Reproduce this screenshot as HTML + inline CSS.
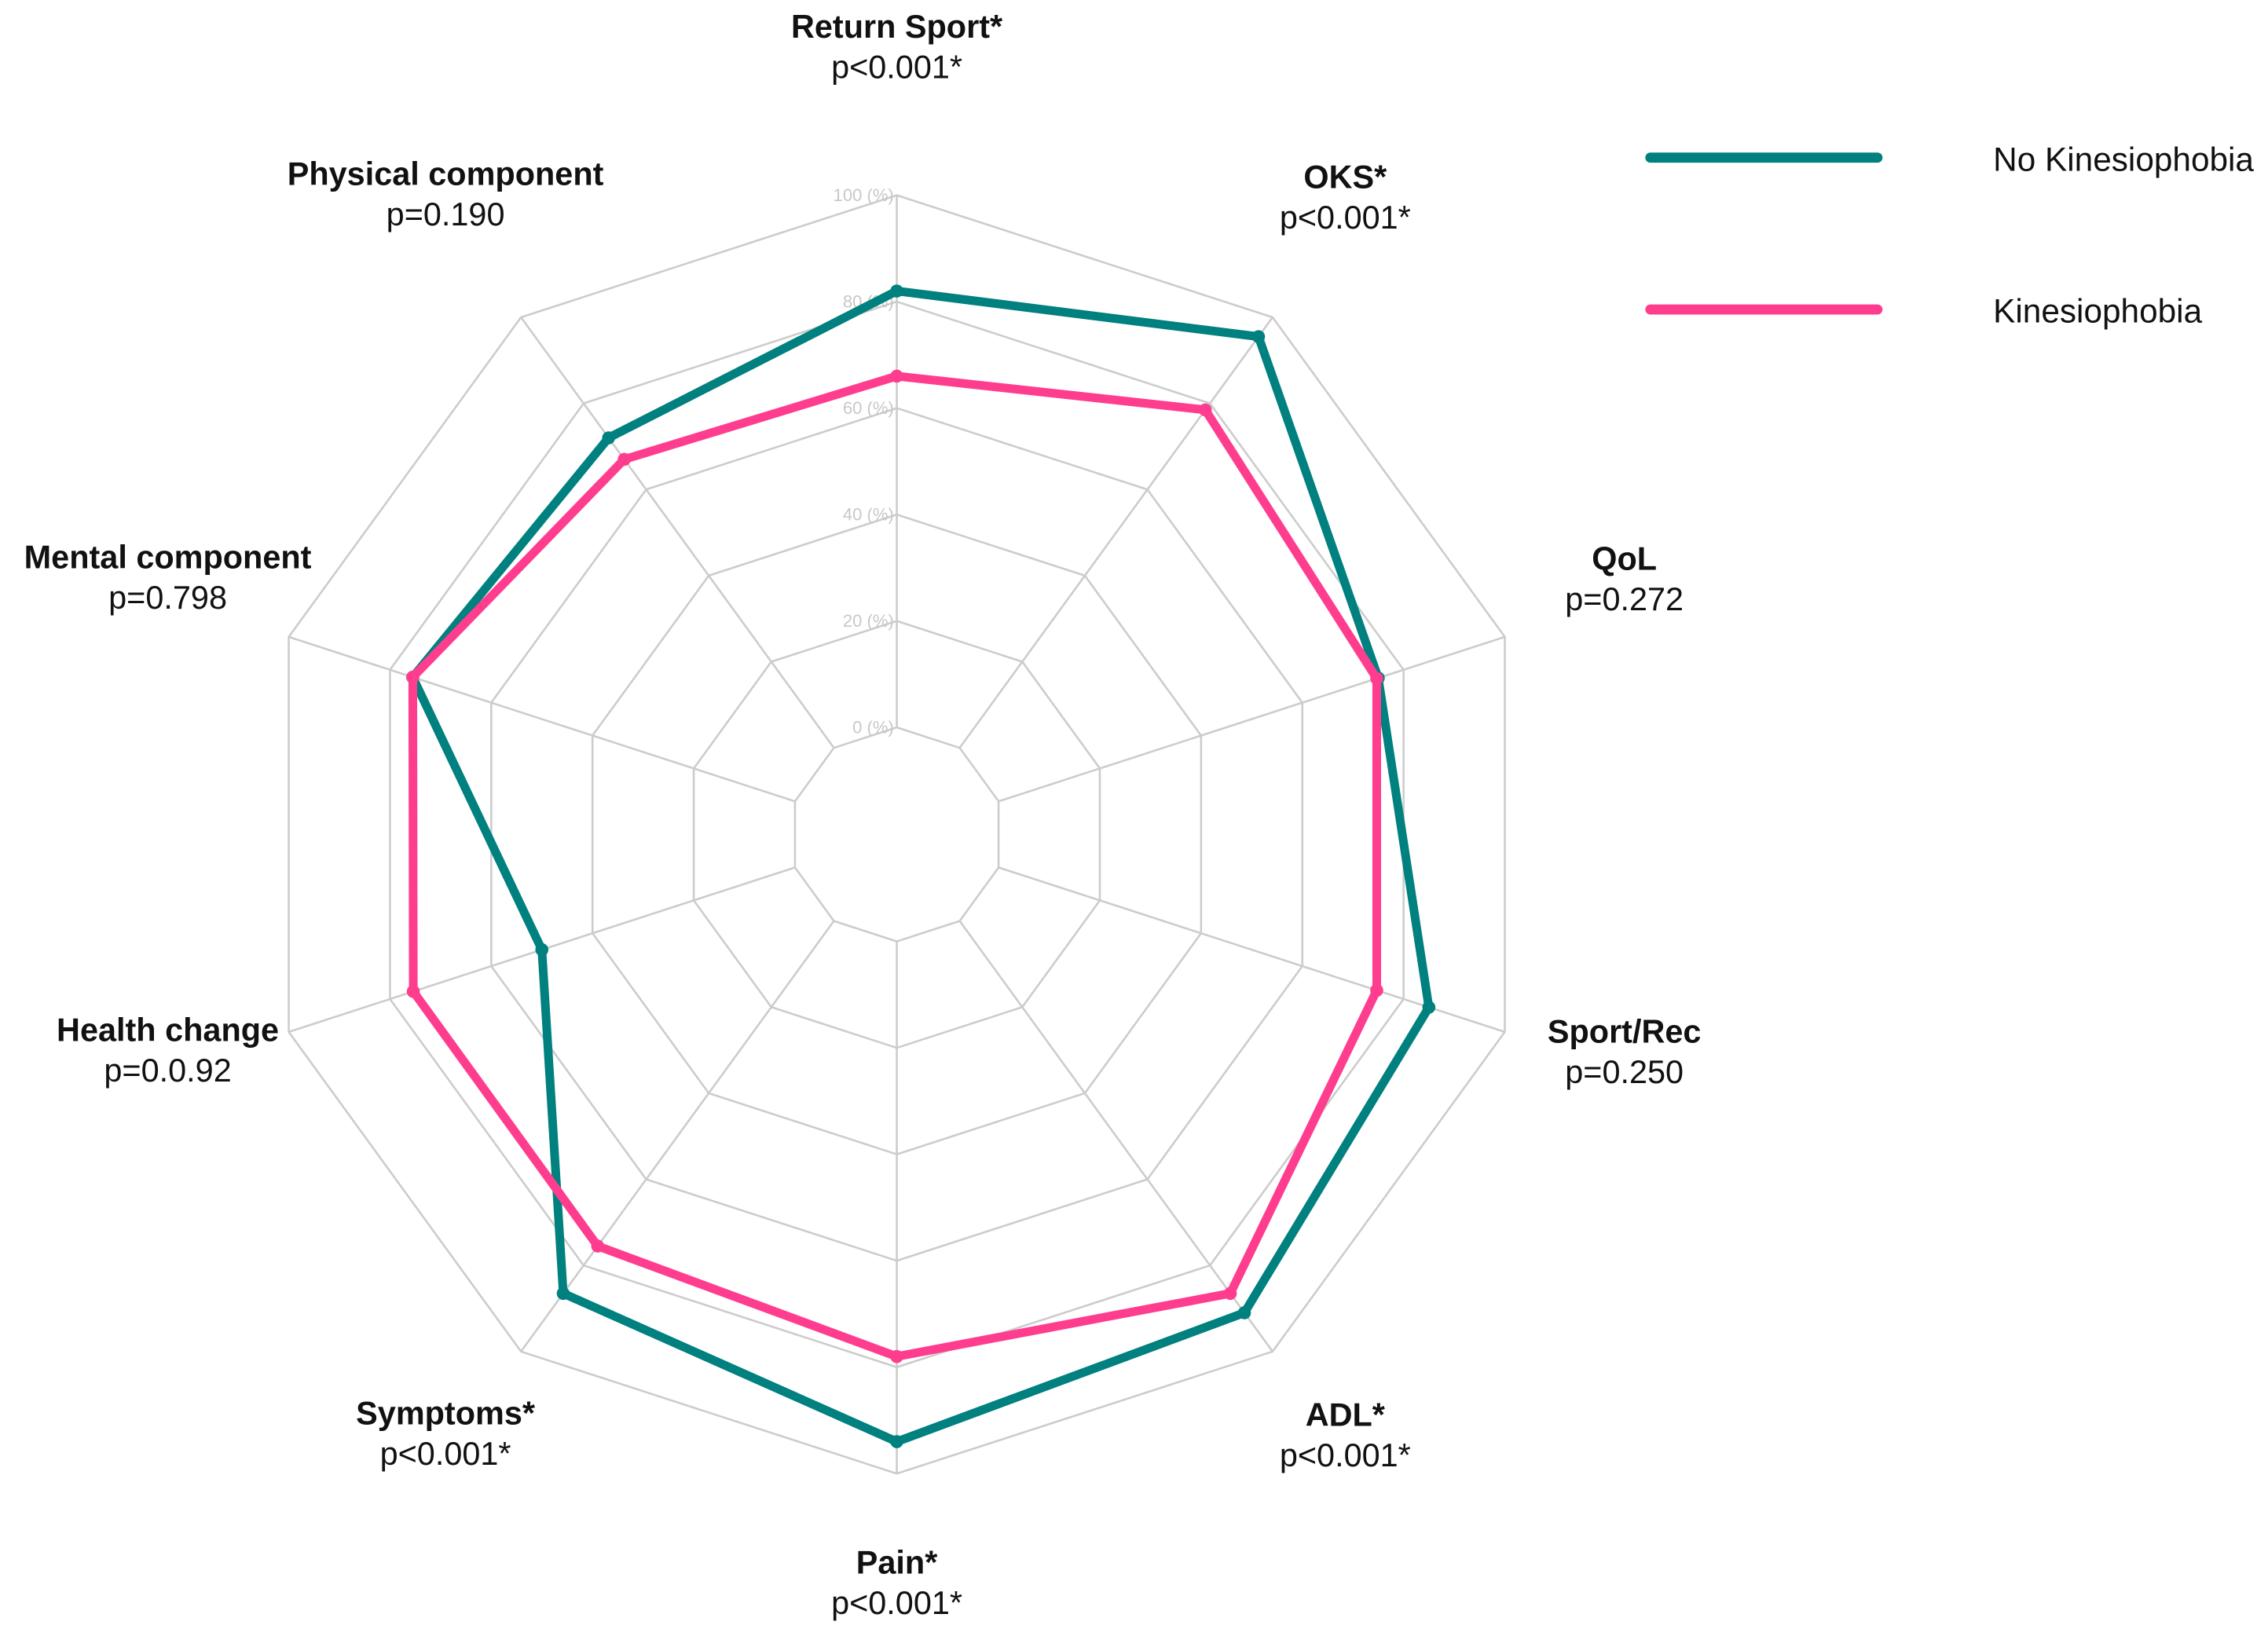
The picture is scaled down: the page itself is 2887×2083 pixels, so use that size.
<!DOCTYPE html>
<html><head><meta charset="utf-8">
<style>
html,body{margin:0;padding:0;background:#fff;}
svg{display:block;font-family:"Liberation Sans",Arial,sans-serif;}
</style></head>
<body>
<svg id="chart" width="2887" height="2083" viewBox="0 0 1568 1131.3" preserveAspectRatio="none" xmlns="http://www.w3.org/2000/svg">
<g id="grid"></g>
<g id="series"></g>
<g id="labels"></g>
<g>
  <line x1="1141" y1="109" x2="1298" y2="109" stroke="#00807f" stroke-width="7" stroke-linecap="round"/>
  <text x="1378" y="118" font-size="23" fill="#111">No Kinesiophobia</text>
  <line x1="1141" y1="214" x2="1298" y2="214" stroke="#ff3d8e" stroke-width="7" stroke-linecap="round"/>
  <text x="1378" y="223" font-size="23" fill="#111">Kinesiophobia</text>
</g>
</svg>
<script>
const categories = ["Return Sport*","OKS*","QoL","Sport/Rec","ADL*","Pain*","Symptoms*","Health change","Mental component","Physical component"];
const pValues = ["p<0.001*","p<0.001*","p=0.272","p=0.250","p<0.001*","p<0.001*","p<0.001*","p=0.0.92","p=0.798","p=0.190"];
const noKinesiophobia = [82, 95.5, 75, 85, 91, 94, 86.5, 50, 75.5, 72];
const kinesiophobia = [66, 78.5, 74.7, 74.7, 86.5, 78, 75.5, 75.4, 75.5, 67];
const tickValues = [0, 20, 40, 60, 80, 100];
const tickLabels = ["0 (%)","20 (%)","40 (%)","60 (%)","80 (%)","100 (%)"];

const NS = "http://www.w3.org/2000/svg";
const cx = 620, cy = 577, r0 = 74, r100 = 442;
const n = categories.length;
function rScale(v){ return r0 + (r100 - r0) * v / 100; }
function angle(i){ return i * 2 * Math.PI / n; }
function pt(i, v){ const r = rScale(v), a = angle(i); return [cx + r*Math.sin(a), cy - r*Math.cos(a)]; }
function mk(tag, attrs){ const e = document.createElementNS(NS, tag); for (const k in attrs) e.setAttribute(k, attrs[k]); return e; }

const grid = document.getElementById("grid");
tickValues.forEach((t, ti) => {
  const pts = categories.map((c, i) => pt(i, t).join(",")).join(" ");
  const p = mk("polygon", {points: pts, fill: "none", stroke: "#cccccc", "stroke-width": 1.4});
  
  
  grid.appendChild(p);
});
categories.forEach((c, i) => {
  const a = pt(i, 0), b = pt(i, 100);
  const l = mk("line", {x1: a[0], y1: a[1], x2: b[0], y2: b[1], stroke: "#cccccc", "stroke-width": 1.4});
  
  
  grid.appendChild(l);
});
tickValues.forEach((t, ti) => {
  const y = cy - rScale(t);
  const tx = mk("text", {x: cx - 2, y: y + 4, "text-anchor": "end", "font-size": 12, fill: "#c8c8c8"});
  tx.textContent = tickLabels[ti];
  
  
  grid.appendChild(tx);
});

const series = document.getElementById("series");
function drawSeries(vals, color, name){
  const pts = vals.map((v, i) => pt(i, v).join(",")).join(" ");
  const p = mk("polygon", {points: pts, fill: "none", stroke: color, "stroke-width": 6, "stroke-linejoin": "round"});
  
  
  series.appendChild(p);
  vals.forEach((v, i) => {
    const q = pt(i, v);
    const c = mk("circle", {cx: q[0], cy: q[1], r: 4.5, fill: color});
    
    
    series.appendChild(c);
  });
}
drawSeries(noKinesiophobia, "#00807f", "no-kinesiophobia");
drawSeries(kinesiophobia, "#ff3d8e", "kinesiophobia");

const labelPos = [[620,18],[930,122],[1123,386],[1123,713],[930,978],[620,1080],[308,977],[116,712],[116,385],[308,120]];
const labels = document.getElementById("labels");
categories.forEach((c, i) => {
  const [x, y] = labelPos[i];
  const t1 = mk("text", {x: x, y: y + 8, "text-anchor": "middle", "font-size": 22.5, "font-weight": "bold", fill: "#111"});
  t1.textContent = c;
  
  
  labels.appendChild(t1);
  const t2 = mk("text", {x: x, y: y + 36, "text-anchor": "middle", "font-size": 22.5, fill: "#111"});
  t2.textContent = pValues[i];
  
  
  labels.appendChild(t2);
});
</script>
</body></html>
